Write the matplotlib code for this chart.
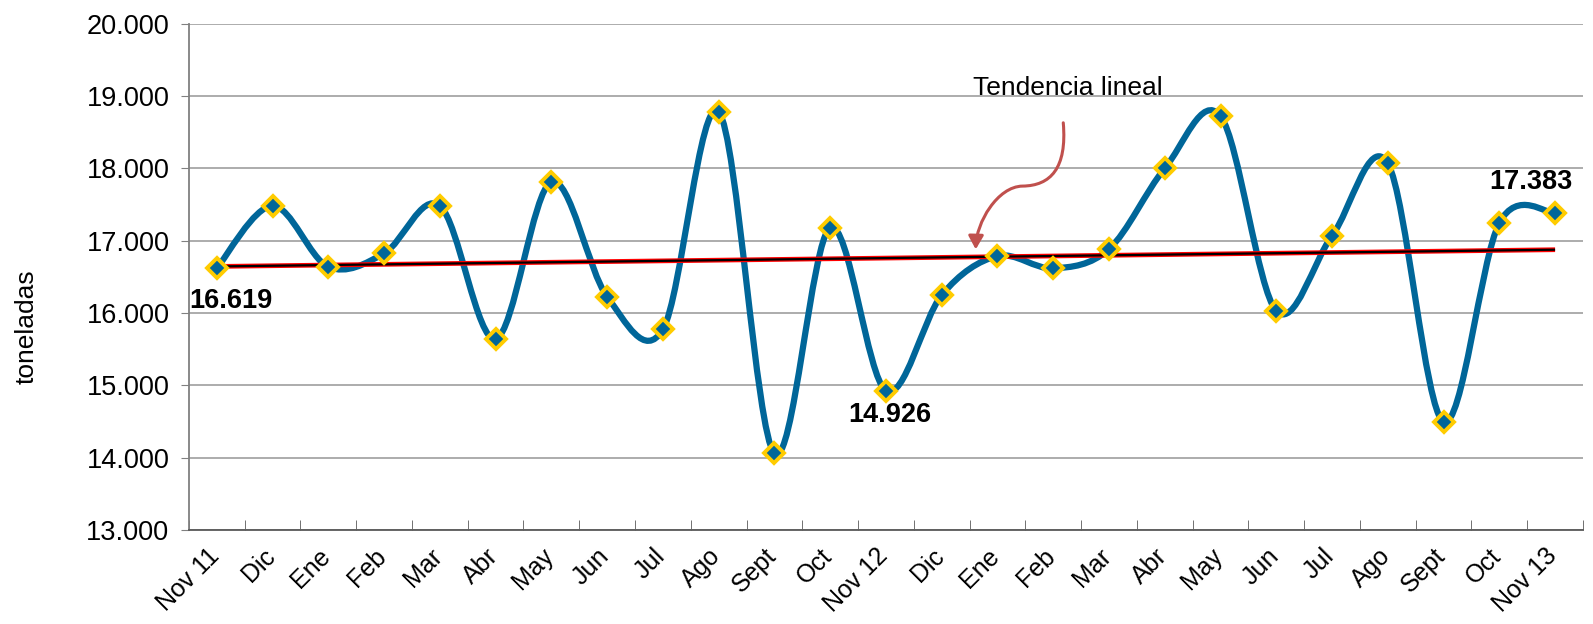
import numpy as np
import matplotlib
matplotlib.use("Agg")
import matplotlib.pyplot as plt
import matplotlib.transforms as mtransforms
from matplotlib.path import Path
from matplotlib.patches import PathPatch, FancyArrowPatch
from matplotlib.ticker import FuncFormatter, FixedLocator

plt.rcParams['font.family'] = ['Liberation Sans', 'DejaVu Sans']

# monthly values (toneladas), Nov 2011 - Nov 2013
months = ["Nov 11", "Dic", "Ene", "Feb", "Mar", "Abr", "May", "Jun", "Jul", "Ago",
          "Sept", "Oct", "Nov 12", "Dic", "Ene", "Feb", "Mar", "Abr", "May", "Jun",
          "Jul", "Ago", "Sept", "Oct", "Nov 13"]
tons = [16619, 17483, 16639, 16824, 17483, 15639, 17815, 16225, 15773, 18783,
        14058, 17180, 14926, 16248, 16787, 16617, 16884, 18000, 18723, 16030,
        17067, 18069, 14495, 17245, 17383]

blue = '#006699'
gold = '#FFCC00'


def fmt_miles(v, pos=None):
    return f"{v:,.0f}".replace(",", ".")


def smooth_path(x, y):
    # excel-like smoothed line: cubic bezier segments (catmull-rom control points)
    pts = np.column_stack([x, y]).astype(float)
    n = len(pts)
    verts = [pts[0]]
    codes = [Path.MOVETO]
    for i in range(n - 1):
        p0 = pts[i - 1] if i > 0 else pts[i]
        p1 = pts[i]
        p2 = pts[i + 1]
        p3 = pts[i + 2] if i + 2 < n else pts[i + 1]
        c1 = p1 + (p2 - p0) / 6
        c2 = p2 - (p3 - p1) / 6
        verts += [c1, c2, p2]
        codes += [Path.CURVE4] * 3
    return Path(verts, codes)


fig = plt.figure(figsize=(15.93, 6.24), dpi=100)
ax = fig.add_axes([0.1186, 0.1506, 0.8751, 0.8114])

x = np.arange(len(tons))
y = np.array(tons)

ax.add_patch(PathPatch(smooth_path(x, y), fill=False, edgecolor=blue, lw=4.5,
                       capstyle='round', joinstyle='round', zorder=3))

# linear trend
a, b = np.polyfit(x, y, 1)
ax.plot([x[0], x[-1]], [a * x[0] + b, a * x[-1] + b], color='red', lw=3.4, zorder=4,
        solid_capstyle='butt')
ax.plot([x[0], x[-1]], [a * x[0] + b, a * x[-1] + b], color='black', lw=1.6, zorder=5,
        solid_capstyle='butt')

ax.plot(x, y, ls='none', marker='D', ms=10.5, mfc=blue, mec=gold, mew=2.8, zorder=6)

# value labels
ax.text(x[0] - 0.5, y[0] - 450, fmt_miles(tons[0]), fontsize=19.5, fontweight='bold',
        ha='left', va='center')
ax.text(x[12] + 0.07, y[12] - 330, fmt_miles(tons[12]), fontsize=19.5, fontweight='bold',
        ha='center', va='center')
ax.text(x[24] - 0.43, y[24] + 430, fmt_miles(tons[24]), fontsize=19.5, fontweight='bold',
        ha='center', va='center')

# trend annotation
ax.text(15.26, 19014, "Tendencia lineal", fontsize=19, ha='center', va='baseline')
arrow_path = Path([(15.18, 18630), (15.25, 18000), (14.95, 17760), (14.45, 17755),
                   (14.0, 17750), (13.62, 17250), (13.61, 16880)],
                  [Path.MOVETO, Path.CURVE4, Path.CURVE4, Path.CURVE4,
                   Path.CURVE4, Path.CURVE4, Path.CURVE4])
ax.add_patch(FancyArrowPatch(path=arrow_path, arrowstyle='-|>,head_length=8,head_width=4.5',
                             color='#C0504D', lw=2.2, zorder=7))

ax.set_xlim(-0.5, len(tons) - 0.5)
ax.set_ylim(13000, 20000)
ax.set_yticks(np.arange(13000, 20001, 1000))
ax.yaxis.set_major_formatter(FuncFormatter(fmt_miles))
ax.grid(axis='y', color='#A6A6A6', lw=1.3)
ax.set_axisbelow(True)

ax.set_xticks(x)
ax.set_xticklabels(months, rotation=45, ha='right', rotation_mode='anchor', fontsize=18)
ax.xaxis.set_minor_locator(FixedLocator(np.arange(-0.5, len(tons), 1.0)))
ax.tick_params(axis='x', which='major', length=0, pad=10)
ax.tick_params(axis='x', which='minor', direction='in', length=7, color='#595959')
ax.tick_params(axis='y', direction='out', length=6, color='#808080', labelsize=19.5, pad=8)

# nudge rotated labels left (after tick_params, which resets transforms)
shift = mtransforms.ScaledTranslation(-0.1, 0, fig.dpi_scale_trans)
for lab in ax.get_xticklabels():
    lab.set_transform(lab.get_transform() + shift)

for s in ['top', 'right']:
    ax.spines[s].set_visible(False)
ax.spines['left'].set_color('#808080')
ax.spines['left'].set_linewidth(1.3)
ax.spines['bottom'].set_color('#595959')
ax.spines['bottom'].set_linewidth(1.3)

ax.set_ylabel("toneladas", fontsize=19)
ax.yaxis.set_label_coords(-0.108, 0.401)

fig.savefig("out.png", dpi=100)
